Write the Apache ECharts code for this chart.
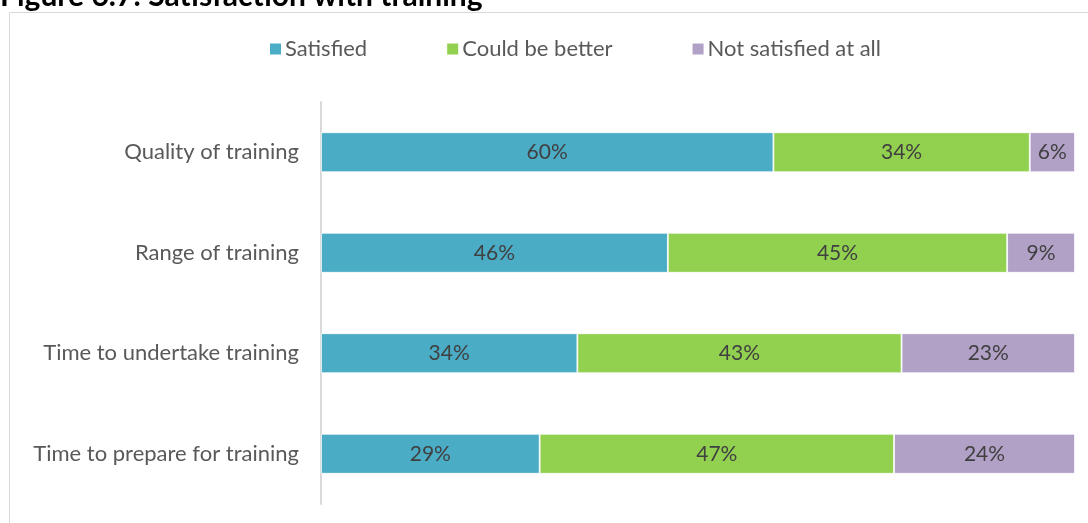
<!DOCTYPE html>
<html>
<head>
<meta charset="utf-8">
<script src="https://cdn.jsdelivr.net/npm/echarts@6/dist/echarts.min.js"></script>
<style>
  html, body { margin: 0; padding: 0; background: #fff; }
  #chart { width: 1088px; height: 523px; }
</style>
</head>
<body>
<div id="chart"></div>
<script>
// categories, top to bottom in the picture
var categories = ['Quality of training', 'Range of training', 'Time to undertake training', 'Time to prepare for training'];
var seriesNames = ['Satisfied', 'Could be better', 'Not satisfied at all'];
var satisfied = [60, 46, 34, 29];
var couldBeBetter = [34, 45, 43, 47];
var notSatisfied = [6, 9, 23, 24];
var colors = ['#4BACC6', '#92D050', '#B2A1C7'];

var fontFam = 'Lato, "Open Sans", sans-serif';

function makeSeries(name, data, color) {
  return {
    name: name,
    type: 'bar',
    stack: 'total',
    barWidth: 40,
    itemStyle: { color: color, borderColor: '#fff', borderWidth: 0.8 },
    label: {
      show: true,
      position: 'inside',
      formatter: '{c}%',
      color: '#404040',
      fontSize: 21,
      fontFamily: fontFam
    },
    emphasis: { disabled: true },
    data: data
  };
}

const chart = echarts.init(document.getElementById('chart'));
var option = {
  backgroundColor: '#fff',
  animation: false,
  color: colors,
  graphic: [
    {
      type: 'rect',
      shape: { x: 9.5, y: 12.5, width: 1090, height: 520 },
      style: { fill: 'none', stroke: '#d9d9d9', lineWidth: 1 },
      silent: true
    },
    {
      type: 'text',
      left: 0,
      top: -19,
      style: {
        text: 'Figure 6.7: Satisfaction with training',
        fontSize: 30,
        fontWeight: 'bold',
        fontFamily: fontFam,
        fill: '#000'
      },
      silent: true
    }
  ],
  legend: {
    top: 33,
    left: 263,
    itemWidth: 13,
    itemHeight: 13,
    itemGap: 78,
    icon: 'rect',
    textStyle: { color: '#595959', fontSize: 22, fontFamily: fontFam, padding: [0, 0, 0, -2] },
    data: seriesNames
  },
  grid: {
    left: 321,
    right: 13,
    top: 102,
    height: 402,
    containLabel: false
  },
  xAxis: {
    type: 'value',
    min: 0,
    max: 100,
    show: false
  },
  yAxis: {
    type: 'category',
    inverse: true,
    data: categories,
    axisTick: { show: false },
    axisLine: { show: true, lineStyle: { color: '#d9d9d9', width: 2 } },
    axisLabel: { color: '#595959', fontSize: 22, fontFamily: fontFam, margin: 22 }
  },
  series: [
    makeSeries(seriesNames[0], satisfied, colors[0]),
    makeSeries(seriesNames[1], couldBeBetter, colors[1]),
    makeSeries(seriesNames[2], notSatisfied, colors[2])
  ]
};
chart.setOption(option);
</script>
</body>
</html>
